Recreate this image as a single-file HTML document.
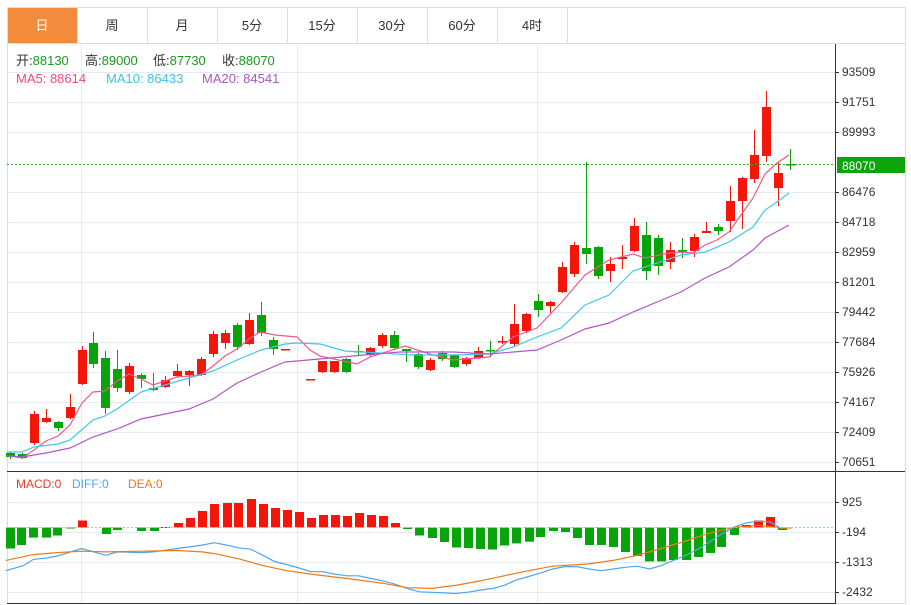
<!DOCTYPE html>
<html><head><meta charset="utf-8"><style>
body{margin:0;background:#fff;width:911px;height:605px;overflow:hidden;font-family:"Liberation Sans","Noto Sans CJK SC",sans-serif;}
#c{position:absolute;left:0;top:0}
</style></head><body>
<svg id="c" width="911" height="605" xmlns="http://www.w3.org/2000/svg" font-family="Liberation Sans, Noto Sans CJK SC, sans-serif">
<rect x="7.5" y="7.5" width="898" height="596" fill="none" stroke="#ddd"/>
<line x1="7" y1="43.5" x2="905" y2="43.5" stroke="#ddd"/>
<rect x="8" y="8" width="69" height="35" fill="#f28c3c"/>
<g stroke="#ddd"><line x1="77.5" y1="8" x2="77.5" y2="43"/><line x1="147.5" y1="8" x2="147.5" y2="43"/><line x1="217.5" y1="8" x2="217.5" y2="43"/><line x1="287.5" y1="8" x2="287.5" y2="43"/><line x1="357.5" y1="8" x2="357.5" y2="43"/><line x1="427.5" y1="8" x2="427.5" y2="43"/><line x1="497.5" y1="8" x2="497.5" y2="43"/><line x1="567.5" y1="8" x2="567.5" y2="43"/></g>
<g font-size="13" text-anchor="middle" fill="#333">
<text x="42" y="30" fill="#fff">日</text><text x="112" y="30">周</text><text x="182" y="30">月</text><text x="252" y="30">5分</text><text x="322" y="30">15分</text><text x="392" y="30">30分</text><text x="462" y="30">60分</text><text x="532" y="30">4时</text>
</g>
<g id="grid" stroke="#e3ebf1"></g>
<line x1="835.5" y1="44" x2="835.5" y2="604" stroke="#333"/>
<line x1="7" y1="471.5" x2="905" y2="471.5" stroke="#333"/>
<line x1="7" y1="603.5" x2="835" y2="603.5" stroke="#333"/>
<g id="ticks" stroke="#333"></g>
<g font-size="12" fill="#333">
<text x="842" y="76">93509</text><text x="842" y="106">91751</text><text x="842" y="136">89993</text><text x="842" y="196">86476</text><text x="842" y="226">84718</text><text x="842" y="256">82959</text><text x="842" y="286">81201</text><text x="842" y="316">79442</text><text x="842" y="346">77684</text><text x="842" y="376">75926</text><text x="842" y="406">74167</text><text x="842" y="436">72409</text><text x="842" y="466">70651</text>
<text x="842" y="506">925</text><text x="842" y="536">-194</text><text x="842" y="566">-1313</text><text x="842" y="596">-2432</text>
</g>
<g id="cd"></g>
<line x1="7" y1="164.5" x2="835" y2="164.5" stroke="#2bb02b" stroke-dasharray="2,2"/>
<line x1="7" y1="527.5" x2="835" y2="527.5" stroke="#8fd3e8" stroke-dasharray="2,2"/>
<rect x="837" y="157" width="68" height="16" fill="#0ba40b"/>
<text x="842" y="170" font-size="12" fill="#fff">88070</text>
<g font-size="13" fill="#333">
<text x="16" y="65">开:<tspan fill="#1a9a1a">88130</tspan></text>
<text x="85" y="65">高:<tspan fill="#1a9a1a">89000</tspan></text>
<text x="153" y="65">低:<tspan fill="#1a9a1a">87730</tspan></text>
<text x="222" y="65">收:<tspan fill="#1a9a1a">88070</tspan></text>
</g>
<g font-size="13">
<text x="16" y="83" fill="#ec4b7e">MA5: 88614</text>
<text x="106" y="83" fill="#3cc4df">MA10: 86433</text>
<text x="202" y="83" fill="#b053c9">MA20: 84541</text>
</g>
<g font-size="12">
<text x="16" y="488" fill="#f03a2a">MACD:0</text>
<text x="72" y="488" fill="#4da6f0">DIFF:0</text>
<text x="128" y="488" fill="#f07a14">DEA:0</text>
</g>
</svg>
<script>
var NS="http://www.w3.org/2000/svg";
function el(p,t,a){var e=document.createElementNS(NS,t);for(var k in a)e.setAttribute(k,a[k]);p.appendChild(e);return e;}
var g=document.getElementById('grid'),tk=document.getElementById('ticks'),cd=document.getElementById('cd');
[72,102,132,192,222,252,282,312,342,372,402,432,462,502,532,562,592].forEach(function(y){el(g,'line',{x1:7,x2:835,y1:y+.5,y2:y+.5});el(tk,'line',{x1:835,x2:839,y1:y+.5,y2:y+.5});});
[81,297,537].forEach(function(x){el(g,'line',{x1:x+.5,x2:x+.5,y1:44,y2:603});});
var R='#f2160b',G='#09a30a';
var C=[[10,G,453,457,452,459],[22,G,454,458,453,459],[34,R,414,443,411,445],[46,R,418,422,409,423],[58,G,422,428,421,431],[70,R,407,418,394,419],[82,R,350,384,346,385],[93,G,343,364,332,368],[105,G,358,408,351,414],[117,G,369,388,350,392],[129,R,366,392,363,394],[141,G,375,379,373,388],[153,G,388,390,373,391],[165,R,380,387,376,388],[177,R,371,376,364,377],[189,R,371,375,370,386],[201,R,359,375,357,376],[213,R,334,354,331,357],[225,R,333,343,330,349],[237,G,325,347,323,350],[249,R,320,344,313,345],[261,G,315,333,302,336],[273,G,340,349,337,355],[285,R,349,350,349,350],[310,R,379,380,379,380],[322,R,361,372,361,373],[334,R,361,372,361,373],[346,G,359,372,358,373],[358,G,351,352,345,356],[370,R,348,355,347,356],[382,R,335,346,333,348],[394,G,335,348,331,350],[406,G,349,351,349,362],[418,G,354,367,353,369],[430,R,360,370,358,371],[442,G,353,359,351,361],[454,G,355,367,354,368],[466,R,358,364,357,366],[478,R,351,358,347,359],[490,G,350,351,341,357],[502,R,341,342,336,344],[514,R,324,344,304,347],[526,R,314,331,313,333],[538,G,301,310,294,317],[550,R,302,306,301,313],[562,R,267,292,262,293],[574,R,245,274,242,277],[586,G,248,254,162,264],[598,G,247,276,246,279],[610,R,264,271,257,282],[622,R,257,259,245,269],[634,R,226,251,218,252],[646,G,235,271,222,280],[658,G,238,266,235,275],[670,R,250,262,242,269],[682,G,250,251,238,258],[694,R,237,251,234,257],[706,R,231,233,222,233],[718,G,227,231,224,235],[730,R,201,221,186,232],[742,R,178,201,177,229],[754,R,155,179,130,183],[766,R,107,156,91,162],[778,R,173,188,163,206],[790,G,164,165,149,170]];
function line(p,pts,col){el(cd,'polyline',{points:pts.map(function(q){return q.join(',')}).join(' '),fill:'none',stroke:col,'stroke-width':1.2});}
C.forEach(function(c){el(cd,'line',{x1:c[0]+.5,x2:c[0]+.5,y1:c[4],y2:c[5],stroke:c[1],'stroke-width':1});el(cd,'rect',{x:c[0]-4,y:c[2],width:9,height:Math.max(1.5,c[3]-c[2]),fill:c[1]});});
line(cd,[[10,456],[22,458],[34,450],[46,441],[58,436],[70,425],[82,403],[93,392],[105,391],[117,381],[129,374],[141,379],[153,385],[165,381],[177,377],[189,376],[201,375],[213,366],[225,356],[237,349],[249,339],[260,332],[275,335],[297,337],[310,350],[320,356],[357,364],[370,357],[405,346],[430,354],[453,360],[489,357],[513,337],[537,328],[561,303],[585,275],[609,260],[633,254],[645,258],[669,253],[681,252],[693,253],[705,245],[717,240],[729,232],[741,215],[753,198],[765,174],[777,163],[789,155]],'#f0588a');
line(cd,[[7,452],[22,452],[34,447],[58,444],[70,440],[93,420],[105,416],[117,409],[141,392],[165,385],[189,378],[213,371],[237,360],[261,350],[285,344],[297,343],[320,344],[345,351],[380,353],[413,355],[453,355],[489,354],[513,347],[537,337],[561,328],[585,305],[609,295],[633,271],[657,263],[681,255],[705,252],[729,242],[753,227],[765,210],[777,202],[789,193]],'#3ec8e2');
line(cd,[[7,456],[22,457],[46,453],[70,448],[93,437],[117,429],[141,419],[165,414],[189,409],[213,399],[237,383],[261,372],[285,362],[297,361],[353,356],[400,352],[453,352],[489,354],[513,352],[537,350],[561,340],[585,329],[609,323],[633,312],[657,302],[681,292],[705,278],[729,267],[753,250],[765,238],[789,225]],'#b356c8');
var B=[[10,548.5],[21,545],[33,537.6],[46,537.6],[57,535.5],[70,528],[82,520.5],[106,534],[117,530],[141,531],[154,531],[165,527],[178,523],[190,518],[202,511],[214,504],[227,503],[238,503],[251,499],[263,504],[275,508],[287,510],[299,512],[311,518],[323,515],[335,515],[347,516],[359,513],[371,515],[383,516],[395,523],[407,529],[419,535.5],[432,538],[444,542],[456,547.5],[468,548],[480,549],[492,549.5],[504,545.5],[516,543.4],[529,541.7],[540,537],[553,531],[565,532],[577,538],[589,545],[601,545],[613,547],[625,552],[637,556],[649,561.5],[661,561.5],[673,560],[686,560],[698,557],[710,553],[721,547],[734,535],[746,525],[758,520.5],[770,517],[782,530]];
B.forEach(function(b){var z=527.5,t=Math.min(z,b[1]),h=Math.abs(b[1]-z);el(cd,'rect',{x:b[0]-4,y:t,width:9,height:Math.max(1,h),fill:b[1]<z?R:G});});
function m(a){return a.map(function(q){return [(q[0]/1.712).toFixed(1),(470+q[1]/2.93).toFixed(1)];});}
line(cd,m([[10,295],[40,280],[57,262],[78,258],[98,252],[140,230],[181,250],[201,240],[242,242],[263,240],[304,230],[346,220],[367,213],[388,220],[408,228],[429,232],[450,250],[470,268],[491,277],[512,287],[532,298],[553,298],[573,305],[594,310],[614,310],[635,318],[656,325],[677,335],[697,347],[718,357],[760,360],[780,362],[801,358],[822,352],[843,347],[863,338],[884,322],[905,312],[925,302],[946,290],[967,283],[988,283],[1008,290],[1029,295],[1050,290],[1070,285],[1091,282],[1112,290],[1132,280],[1153,265],[1174,250],[1195,232],[1215,210],[1235,188],[1256,168],[1277,155],[1297,150],[1318,152],[1338,172]]),'#4da6f0');
line(cd,m([[10,265],[57,248],[98,242],[140,238],[181,240],[242,238],[304,236],[346,240],[367,245],[408,260],[450,280],[491,295],[532,305],[594,318],[656,332],[697,345],[739,347],[780,338],[822,325],[863,310],[905,295],[946,282],[1008,275],[1050,265],[1091,250],[1132,230],[1174,208],[1215,185],[1256,168],[1297,162],[1338,170],[1355,170]]),'#f07a14');
</script>
</body></html>
